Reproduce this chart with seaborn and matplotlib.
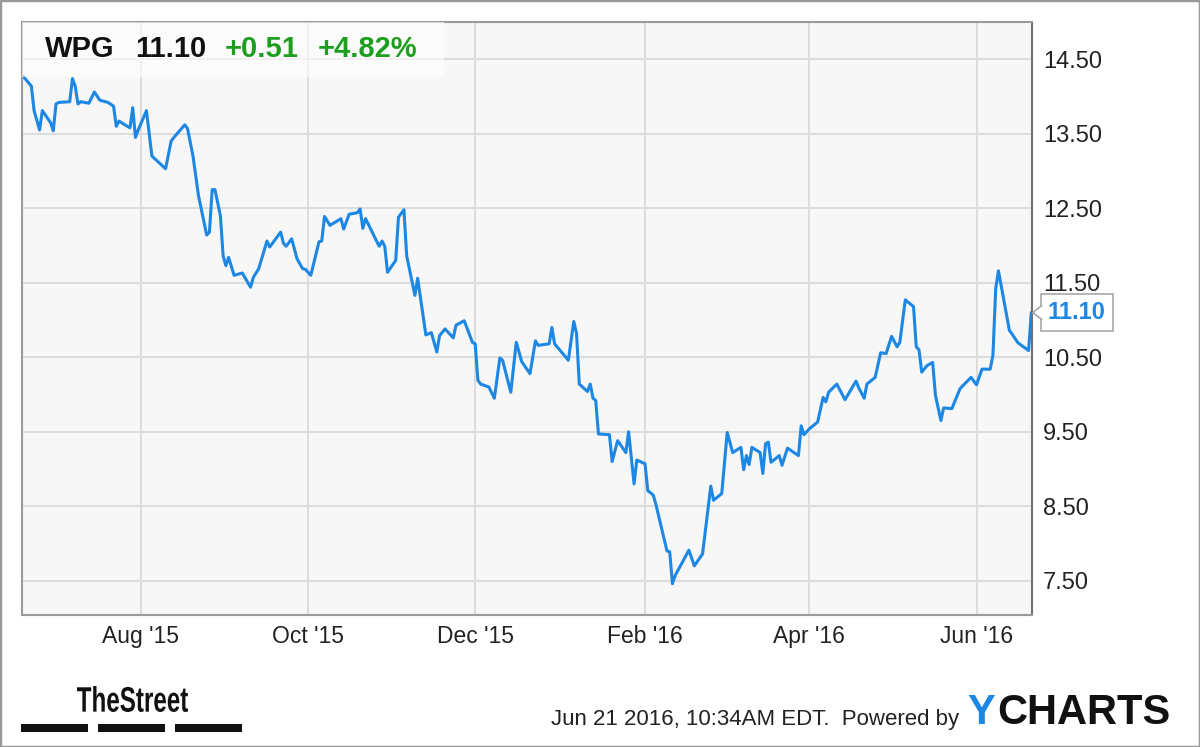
import numpy as np
import pandas as pd
import matplotlib
matplotlib.use("Agg")
import matplotlib.pyplot as plt
import matplotlib.dates as mdates
import matplotlib.transforms as mtransforms
from matplotlib.patches import Rectangle, Polygon, PathPatch
from matplotlib.lines import Line2D
from matplotlib.textpath import TextPath
from matplotlib.font_manager import FontProperties
import seaborn as sns

# WPG daily close
dates = [
    "2015-06-19", "2015-06-22", "2015-06-23", "2015-06-25", "2015-06-26", "2015-06-29", "2015-06-30",
    "2015-07-01", "2015-07-02", "2015-07-06", "2015-07-07", "2015-07-08", "2015-07-09", "2015-07-10",
    "2015-07-13", "2015-07-15", "2015-07-17", "2015-07-20", "2015-07-22", "2015-07-23", "2015-07-24",
    "2015-07-27", "2015-07-28", "2015-07-29", "2015-07-30", "2015-07-31",
    "2015-08-03", "2015-08-05", "2015-08-10", "2015-08-12", "2015-08-13", "2015-08-17", "2015-08-18",
    "2015-08-20", "2015-08-22", "2015-08-25", "2015-08-26", "2015-08-27", "2015-08-28", "2015-08-30",
    "2015-08-31",
    "2015-09-01", "2015-09-02", "2015-09-04", "2015-09-07", "2015-09-10", "2015-09-11", "2015-09-13",
    "2015-09-16", "2015-09-17", "2015-09-21", "2015-09-22", "2015-09-23", "2015-09-25", "2015-09-27",
    "2015-09-29", "2015-09-30",
    "2015-10-02", "2015-10-05", "2015-10-06", "2015-10-07", "2015-10-09", "2015-10-13", "2015-10-14",
    "2015-10-16", "2015-10-19", "2015-10-20", "2015-10-21", "2015-10-22", "2015-10-26", "2015-10-27",
    "2015-10-28", "2015-10-29", "2015-10-30",
    "2015-11-02", "2015-11-03", "2015-11-05", "2015-11-06", "2015-11-09", "2015-11-10", "2015-11-13",
    "2015-11-15", "2015-11-17", "2015-11-18", "2015-11-20", "2015-11-23", "2015-11-24", "2015-11-27",
    "2015-11-30",
    "2015-12-01", "2015-12-02", "2015-12-03", "2015-12-06", "2015-12-08", "2015-12-10", "2015-12-11",
    "2015-12-14", "2015-12-16", "2015-12-18", "2015-12-21", "2015-12-23", "2015-12-24", "2015-12-28",
    "2015-12-29", "2015-12-30",
    "2016-01-04", "2016-01-06", "2016-01-07", "2016-01-08", "2016-01-11", "2016-01-12", "2016-01-13",
    "2016-01-14", "2016-01-15", "2016-01-19", "2016-01-20", "2016-01-22", "2016-01-25", "2016-01-26",
    "2016-01-28", "2016-01-29",
    "2016-02-01", "2016-02-02", "2016-02-04", "2016-02-05", "2016-02-09", "2016-02-10", "2016-02-11",
    "2016-02-12", "2016-02-17", "2016-02-19", "2016-02-22", "2016-02-25", "2016-02-26", "2016-02-29",
    "2016-03-02", "2016-03-04", "2016-03-07", "2016-03-08", "2016-03-09", "2016-03-10", "2016-03-11",
    "2016-03-14", "2016-03-15", "2016-03-16", "2016-03-17", "2016-03-18", "2016-03-21", "2016-03-22",
    "2016-03-24", "2016-03-28", "2016-03-29", "2016-03-30",
    "2016-04-01", "2016-04-04", "2016-04-06", "2016-04-07", "2016-04-08", "2016-04-11", "2016-04-14",
    "2016-04-18", "2016-04-19", "2016-04-21", "2016-04-22", "2016-04-25", "2016-04-27", "2016-04-29",
    "2016-05-01", "2016-05-03", "2016-05-04", "2016-05-06", "2016-05-09", "2016-05-10", "2016-05-11",
    "2016-05-12", "2016-05-14", "2016-05-16", "2016-05-17", "2016-05-19", "2016-05-20", "2016-05-23",
    "2016-05-26", "2016-05-30",
    "2016-06-01", "2016-06-03", "2016-06-06", "2016-06-07", "2016-06-08", "2016-06-09", "2016-06-10",
    "2016-06-13", "2016-06-14", "2016-06-16", "2016-06-17", "2016-06-20", "2016-06-21",
]
prices = [
    14.27, 14.14, 13.81, 13.55, 13.81, 13.65, 13.54,
    13.90, 13.92, 13.93, 14.24, 14.14, 13.90, 13.93,
    13.91, 14.06, 13.95, 13.92, 13.87, 13.60, 13.67,
    13.60, 13.58, 13.85, 13.45, 13.55,
    13.81, 13.20, 13.03, 13.40, 13.45, 13.62, 13.57,
    13.20, 12.67, 12.14, 12.18, 12.75, 12.75, 12.40,
    11.86,
    11.73, 11.84, 11.60, 11.63, 11.44, 11.57, 11.69,
    12.06, 11.98, 12.18, 12.03, 11.99, 12.09, 11.82,
    11.69, 11.68,
    11.60, 12.05, 12.06, 12.39, 12.27, 12.36, 12.22,
    12.42, 12.44, 12.49, 12.23, 12.36, 12.06, 11.99,
    12.06, 11.99, 11.64,
    11.80, 12.38, 12.48, 11.86, 11.33, 11.56, 10.80,
    10.83, 10.57, 10.79, 10.88, 10.76, 10.93, 10.99,
    10.70,
    10.68, 10.19, 10.14, 10.10, 9.95, 10.49, 10.46,
    10.03, 10.70, 10.44, 10.28, 10.72, 10.66, 10.68,
    10.90, 10.68,
    10.46, 10.98, 10.82, 10.14, 10.04, 10.14, 9.95,
    9.92, 9.47, 9.46, 9.10, 9.38, 9.22, 9.50,
    8.80, 9.12,
    9.07, 8.71, 8.65, 8.52, 7.90, 7.89, 7.46,
    7.57, 7.91, 7.70, 7.86, 8.77, 8.58, 8.67,
    9.49, 9.22, 9.29, 8.99, 9.18, 9.06, 9.29,
    9.22, 8.94, 9.34, 9.36, 9.09, 9.18, 9.05,
    9.28, 9.18, 9.58, 9.46,
    9.54, 9.63, 9.96, 9.90, 10.03, 10.14, 9.93,
    10.18, 10.09, 9.95, 10.14, 10.23, 10.56, 10.55,
    10.78, 10.64, 10.70, 11.27, 11.18, 10.64, 10.60,
    10.30, 10.39, 10.43, 9.99, 9.65, 9.82, 9.81,
    10.08, 10.23,
    10.13, 10.34, 10.34, 10.53, 11.42, 11.66, 11.46,
    10.86, 10.81, 10.70, 10.67, 10.59, 11.10,
]

ticker = "WPG"
change = 0.51
change_pct = 4.82
yticks = [7.5, 8.5, 9.5, 10.5, 11.5, 12.5, 13.5, 14.5]
stamp = "Jun 21 2016, 10:34AM EDT.  Powered by"

df = pd.DataFrame({"date": pd.to_datetime(dates), "price": prices})
last_date = df["date"].iloc[-1]
last_price = df["price"].iloc[-1]

blue = "#1d87e4"
green = "#1e9e1e"

sns.set_style("whitegrid")
plt.rcParams["font.family"] = ["Liberation Sans", "DejaVu Sans"]

W, H = 1200, 747
fig = plt.figure(figsize=(W / 100, H / 100), dpi=100)
ax = fig.add_axes([22 / W, 1 - 615 / H, (1032 - 22) / W, (615 - 22) / H])
ax.set_facecolor("#f7f7f7")

sns.lineplot(data=df, x="date", y="price", color=blue, linewidth=2.2, ax=ax)

ax.set_xlim(pd.Timestamp("2015-06-18 14:00"), pd.Timestamp("2016-06-21 06:00"))
ax.set_ylim(7.04, 15.0)
ax.set_xlabel("")
ax.set_ylabel("")

ax.xaxis.set_major_locator(mdates.MonthLocator(bymonth=[2, 4, 6, 8, 10, 12]))
ax.xaxis.set_major_formatter(mdates.DateFormatter("%b '%y"))
ax.set_yticks(yticks)
ax.yaxis.set_major_formatter(matplotlib.ticker.FormatStrFormatter("%.2f"))
ax.yaxis.tick_right()
ax.tick_params(axis="y", length=0, pad=8, labelsize=17, labelcolor="#222222")
ax.tick_params(axis="x", length=0, pad=7, labelsize=16.5, labelcolor="#222222")
ax.grid(True, color="#dcdcdc", linewidth=1.4)
for side in ["left", "top", "bottom"]:
    ax.spines[side].set_color("#9a9a9a")
    ax.spines[side].set_linewidth(1.5)
ax.spines["right"].set_color("#707070")
ax.spines["right"].set_linewidth(1.5)

# price callout on the right edge
ax.annotate(f"{last_price:.2f}", xy=(last_date, last_price), xytext=(12, 0),
            textcoords="offset points", ha="left", va="center",
            fontsize=17, fontweight="bold", color=blue, annotation_clip=False,
            bbox=dict(boxstyle="square,pad=0.3", fc="white", ec="#a8a8a8", lw=1.2),
            zorder=6)
anchor = mtransforms.ScaledTranslation(mdates.date2num(last_date), last_price, ax.transData)
notch = fig.dpi_scale_trans + anchor
ax.add_patch(Polygon([(0.015, 0), (0.105, 0.07), (0.12, 0.07), (0.12, -0.07), (0.105, -0.07)],
                     closed=True, fc="white", ec="none", transform=notch, clip_on=False, zorder=7))
ax.add_line(Line2D([0.105, 0.015, 0.105], [0.07, 0, -0.07], color="#a8a8a8", lw=1.2,
                   transform=notch, clip_on=False, zorder=8))

# header
fig.patches.append(Rectangle((22 / W, 1 - 77 / H), (444 - 22) / W, (77 - 22) / H,
                             transform=fig.transFigure, fc="white", ec="none", alpha=0.6, zorder=5))
hy = 1 - 49 / H
fig.text(45 / W, hy, ticker, fontsize=21, fontweight="bold", color="#111111", va="center", zorder=6)
fig.text(135 / W, hy, f"{last_price:.2f}", fontsize=21, fontweight="bold", color="#111111", va="center", zorder=6)
fig.text(225 / W, hy, f"+{change:.2f}", fontsize=21, fontweight="bold", color=green, va="center", zorder=6)
fig.text(318 / W, hy, f"+{change_pct:.2f}%", fontsize=21, fontweight="bold", color=green, va="center", zorder=6)

# footer
fig.text(551 / W, 1 - 719 / H, stamp, fontsize=16, color="#222222", va="center")
fig.text(967 / W, 1 - 713 / H, "Y", fontsize=30, fontweight="bold", color=blue, va="center")
fig.text(997 / W, 1 - 713 / H, "CHARTS", fontsize=30, fontweight="bold", color="#111111", va="center")

# TheStreet logo, condensed by scaling the glyph path
tp = TextPath((0, 0), "TheStreet", size=30, prop=FontProperties(family="Liberation Sans", weight="bold"))
ext = tp.get_extents()
logo_tr = (mtransforms.Affine2D().translate(-ext.x0, -ext.y0)
           .scale(111 / ext.width, 26 / ext.height).translate(77, H - 712).scale(1 / 100)
           + fig.dpi_scale_trans)
fig.patches.append(PathPatch(tp, transform=logo_tr, fc="#111111", ec="none"))
for x0, x1 in [(21, 88), (98, 165), (175, 242)]:
    fig.patches.append(Rectangle((x0 / W, 1 - 732 / H), (x1 - x0) / W, 8 / H,
                                 transform=fig.transFigure, fc="#111111", ec="none"))

# outer frame
fig.patches.append(Rectangle((0, 0), 1, 1, transform=fig.transFigure, fill=False,
                             ec="#999999", lw=2.5, zorder=10))

fig.savefig("out.png", dpi=100)
